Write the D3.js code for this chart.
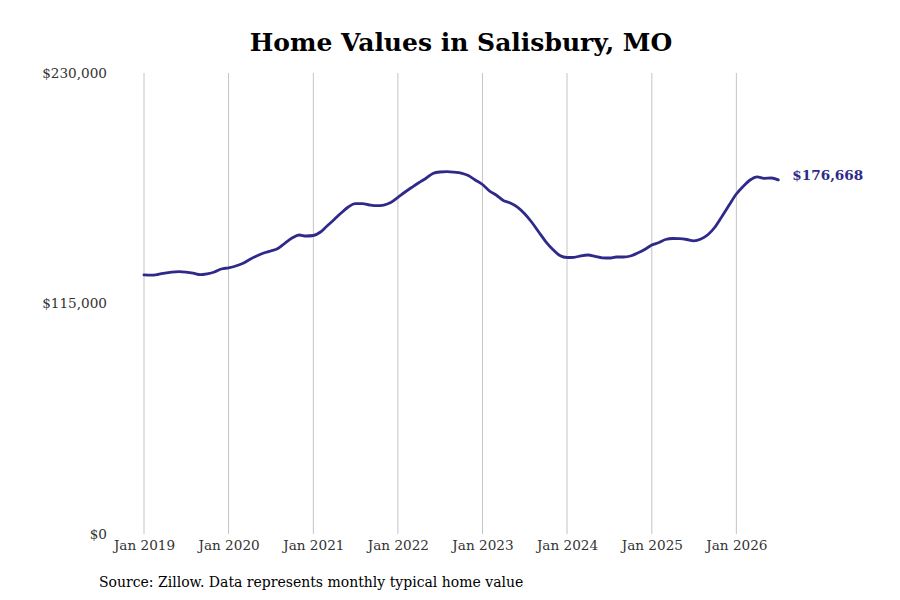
<!DOCTYPE html>
<html>
<head>
<meta charset="utf-8">
<script src="https://cdn.jsdelivr.net/npm/d3@7"></script>
<style>
  html, body { margin: 0; padding: 0; background: #ffffff; }
  svg { display: block; }
</style>
</head>
<body>
<svg id="chart" width="900" height="600"></svg>
<script>
// ---- Data (monthly typical home value, Jan 2019 – Jul 2026) ----
const startMonth = "2019-01";
const endMonth = "2026-07";
const homeValues = [
  129315, 129115, 129465, 130213, 130662, 130862, 130612, 130113, 129365, 129814, 130712, 132209,
  132807, 133705, 134953, 136948, 138694, 140191, 141189, 142436, 145180, 147674, 149171, 148672,
  148922, 150667, 153661, 156904, 160147, 163140, 164787, 164787, 164138, 163789, 164138, 165385,
  167980, 170624, 172869, 175264, 177359, 179854, 180602, 180752, 180502, 180103, 178856, 176611,
  174366, 171123, 169127, 166383, 165136, 163140, 159897, 155657, 150667, 145928, 141937, 138944,
  137946, 138046, 138794, 139193, 138545, 137797, 137696, 138195, 138195, 138694, 140191, 141937,
  144182, 145429, 146926, 147425, 147325, 146926, 146277, 147176, 149421, 153162, 158650, 164138,
  169626, 173617, 176611, 178207, 177459, 177608, 176668
];
const yTickValues = [0, 115000, 230000];
const xTickYears = [2019, 2020, 2021, 2022, 2023, 2024, 2025, 2026];
const titleText = "Home Values in Salisbury, MO";
const sourceText = "Source: Zillow. Data represents monthly typical home value";

// ---- Build ----
const parseMonth = d3.timeParse("%Y-%m");
const months = d3.timeMonth.range(parseMonth(startMonth), d3.timeMonth.offset(parseMonth(endMonth), 1));
const data = months.map((d, i) => ({ date: d, value: homeValues[i] }));

const svg = d3.select("#chart");
const font = "'DejaVu Serif', serif";
const lineColor = "#2f2a89";

const x = d3.scaleTime()
  .domain([parseMonth(startMonth), parseMonth(endMonth)])
  .range([144, 778.3]);
const y = d3.scaleLinear()
  .domain([0, 230000])
  .range([534, 73]);

// Title
svg.append("text")
  .attr("x", 461).attr("y", 51)
  .attr("text-anchor", "middle")
  .attr("font-family", font)
  .attr("font-weight", "bold")
  .attr("font-size", 25)
  .attr("fill", "#000")
  .text(titleText);

// Vertical grid lines
const xTicks = xTickYears.map(yr => new Date(yr, 0, 1));
svg.append("g").selectAll("line")
  .data(xTicks).join("line")
  .attr("x1", d => x(d)).attr("x2", d => x(d))
  .attr("y1", y(230000)).attr("y2", y(0))
  .attr("stroke", "#c4c4c4").attr("stroke-width", 1);

// X axis labels
const xAxis = d3.axisBottom(x).tickValues(xTicks).tickFormat(d3.timeFormat("Jan %Y")).tickSize(0).tickPadding(0);
const gx = svg.append("g").attr("transform", `translate(0, 540)`).call(xAxis);
gx.select(".domain").remove();
gx.selectAll("text")
  .attr("dy", "0.72em")
  .attr("font-family", font).attr("font-size", 13.6).attr("fill", "#333");

// Y axis labels
const yAxis = d3.axisLeft(y).tickValues(yTickValues).tickFormat(d => "$" + d3.format(",")(d)).tickSize(0).tickPadding(0);
const gy = svg.append("g").attr("transform", `translate(107, 0)`).call(yAxis);
gy.select(".domain").remove();
gy.selectAll("text")
  .attr("font-family", font).attr("font-size", 13.6).attr("fill", "#333");

// Line
const line = d3.line()
  .x(d => x(d.date))
  .y(d => y(d.value))
  .curve(d3.curveMonotoneX);
svg.append("path")
  .datum(data)
  .attr("fill", "none")
  .attr("stroke", lineColor)
  .attr("stroke-width", 2.8)
  .attr("stroke-linejoin", "round")
  .attr("stroke-linecap", "round")
  .attr("d", line);

// End label
const last = data[data.length - 1];
svg.append("text")
  .attr("x", x(last.date) + 14)
  .attr("y", y(last.value) - 5)
  .attr("dy", "0.35em")
  .attr("font-family", font)
  .attr("font-weight", "bold")
  .attr("font-size", 13.6)
  .attr("fill", lineColor)
  .text("$" + d3.format(",")(last.value));

// Source
svg.append("text")
  .attr("x", 99).attr("y", 587)
  .attr("font-family", font)
  .attr("font-size", 14)
  .attr("fill", "#000")
  .text(sourceText);
</script>
</body>
</html>
